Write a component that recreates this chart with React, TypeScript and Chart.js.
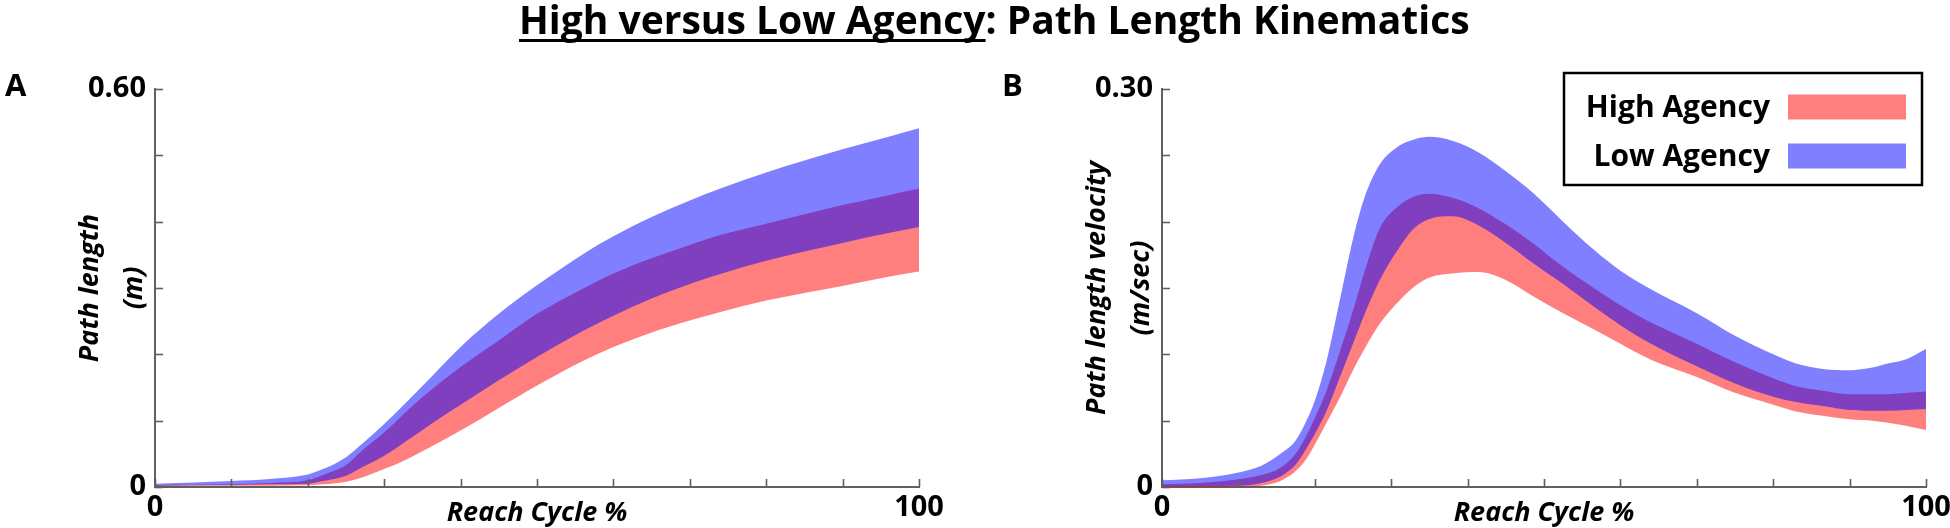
import React, { useEffect, useRef } from 'react';
import { Chart, registerables } from 'chart.js';

Chart.register(...registerables);

const FONT = "'Open Sans', 'DejaVu Sans', sans-serif";
Chart.defaults.font.family = FONT;

// ---------- texts ----------
const titleUnderlined = 'High versus Low Agency';
const titleRest = ': Path Length Kinematics';
const panelLetters = ['A', 'B'];
const xAxisTitle = 'Reach Cycle %';
const yTitleA = ['Path length', '(m)'];
const yTitleB = ['Path length velocity', '(m/sec)'];

// ---------- series ----------
const seriesNames = ['High Agency', 'Low Agency'];
const seriesColors = ['rgba(255, 0, 0, 0.5)', 'rgba(0, 0, 255, 0.5)'];

// ---------- tick labels ----------
const xTickValues = [0, 100];
const xTickTexts = ['0', '100'];
const yTickValuesA = [0, 0.6];
const yTickTextsA = ['0', '0.60'];
const yTickValuesB = [0, 0.3];
const yTickTextsB = ['0', '0.30'];

// ---------- panel A: path length (m) ----------
const reachA = [0, 10, 15, 20, 22, 25, 27, 30, 33, 36, 40, 45, 50, 56, 60, 65, 70, 74, 80, 90, 96, 100];
const lowUpperA = [0.005, 0.009, 0.012, 0.019, 0.027, 0.045, 0.064, 0.095, 0.129, 0.164, 0.211, 0.261, 0.304, 0.351, 0.378, 0.407, 0.432, 0.450, 0.474, 0.509, 0.528, 0.541];
const lowLowerA = [0.002, 0.003, 0.004, 0.005, 0.009, 0.017, 0.029, 0.047, 0.070, 0.094, 0.124, 0.161, 0.196, 0.235, 0.258, 0.284, 0.306, 0.321, 0.341, 0.368, 0.383, 0.392];
const highUpperA = [0.003, 0.004, 0.006, 0.010, 0.018, 0.033, 0.054, 0.082, 0.115, 0.145, 0.181, 0.221, 0.261, 0.299, 0.322, 0.345, 0.365, 0.380, 0.397, 0.425, 0.440, 0.450];
const highLowerA = [0.0015, 0.002, 0.002, 0.0025, 0.004, 0.008, 0.014, 0.027, 0.042, 0.060, 0.085, 0.119, 0.153, 0.190, 0.211, 0.233, 0.251, 0.264, 0.281, 0.303, 0.317, 0.325];

// ---------- panel B: path length velocity (m/sec) ----------
const reachB = [0, 5, 10, 13, 15.5, 17.5, 19, 20, 21.5, 23.5, 25, 26.5, 28.5, 31, 33, 35, 38, 41.5, 45, 48.5, 52.5, 56.5, 60, 64, 70, 75, 80, 83, 86.5, 90, 93, 95, 97.5, 100];
const lowUpperB = [0.005, 0.0066, 0.011, 0.016, 0.025, 0.035, 0.051, 0.065, 0.094, 0.147, 0.187, 0.218, 0.243, 0.257, 0.262, 0.264, 0.261, 0.252, 0.238, 0.222, 0.200, 0.179, 0.163, 0.149, 0.131, 0.114, 0.100, 0.093, 0.089, 0.088, 0.090, 0.093, 0.0965, 0.104];
const lowLowerB = [0.0005, 0.0007, 0.001, 0.003, 0.008, 0.017, 0.030, 0.040, 0.057, 0.086, 0.108, 0.130, 0.156, 0.180, 0.195, 0.202, 0.204, 0.197, 0.184, 0.169, 0.153, 0.136, 0.122, 0.108, 0.091, 0.078, 0.068, 0.064, 0.061, 0.058, 0.0575, 0.0575, 0.058, 0.0587];
const highUpperB = [0.002, 0.003, 0.0058, 0.009, 0.0146, 0.025, 0.040, 0.052, 0.072, 0.106, 0.133, 0.162, 0.195, 0.212, 0.219, 0.221, 0.218, 0.210, 0.198, 0.184, 0.166, 0.150, 0.137, 0.124, 0.108, 0.094, 0.082, 0.076, 0.0726, 0.070, 0.070, 0.070, 0.071, 0.072];
const highLowerB = [0, 0, 0.0003, 0.001, 0.0045, 0.012, 0.022, 0.032, 0.048, 0.070, 0.088, 0.104, 0.123, 0.140, 0.151, 0.158, 0.161, 0.162, 0.156, 0.144, 0.131, 0.119, 0.108, 0.096, 0.083, 0.071, 0.062, 0.057, 0.0537, 0.051, 0.050, 0.0485, 0.046, 0.043];

// ---------- style ----------
const AXIS_COLOR = '#606060';
const CANVAS_W = 975;
const CANVAS_H = 528;

const inwardTicks = {
  id: 'inwardTicks',
  afterDatasetsDraw(chart: any) {
    const { ctx, chartArea, scales } = chart;
    const len = 8;
    ctx.save();
    ctx.strokeStyle = AXIS_COLOR;
    ctx.lineWidth = 1.6;
    const xs = scales.x;
    const ys = scales.y;
    xs.ticks.forEach((t: any) => {
      const px = Math.round(xs.getPixelForValue(t.value)) + 0.5;
      ctx.beginPath();
      ctx.moveTo(px, chartArea.bottom);
      ctx.lineTo(px, chartArea.bottom - len);
      ctx.stroke();
    });
    ys.ticks.forEach((t: any) => {
      const py = Math.round(ys.getPixelForValue(t.value)) + 0.5;
      ctx.beginPath();
      ctx.moveTo(chartArea.left, py);
      ctx.lineTo(chartArea.left + len, py);
      ctx.stroke();
    });
    ctx.restore();
  },
};

const boxLegend = {
  id: 'boxLegend',
  afterDraw(chart: any, _args: any, opts: any) {
    if (!opts || !opts.show) return;
    const { ctx, chartArea } = chart;
    const right = chartArea.right - 4;
    const top = chartArea.top - 16;
    const w = 358;
    const h = 112;
    ctx.save();
    ctx.fillStyle = '#ffffff';
    ctx.fillRect(right - w, top, w, h);
    ctx.lineWidth = 2.5;
    ctx.strokeStyle = '#000000';
    ctx.strokeRect(right - w, top, w, h);
    ctx.font = `bold 30px ${FONT}`;
    ctx.textAlign = 'right';
    ctx.textBaseline = 'middle';
    seriesNames.forEach((name, i) => {
      const cy = top + 34 + i * 49;
      ctx.fillStyle = seriesColors[i];
      ctx.fillRect(right - 134, cy - 12.5, 118, 25);
      ctx.fillStyle = '#000000';
      ctx.fillText(name, right - 152, cy + 1);
    });
    ctx.restore();
  },
};

type PanelSpec = {
  x: number[];
  lowUpper: number[];
  lowLower: number[];
  highUpper: number[];
  highLower: number[];
  yMax: number;
  yStep: number;
  yTickValues: number[];
  yTickTexts: string[];
  yTitle: string[];
  padLeft: number;
  padRight: number;
  legend: boolean;
};

function labelFor(values: number[], texts: string[]) {
  return (value: any) => {
    const v = Number(value);
    for (let i = 0; i < values.length; i++) {
      if (Math.abs(values[i] - v) < 1e-9) return texts[i];
    }
    return '';
  };
}

function buildConfig(p: PanelSpec): any {
  const pts = (ys: number[]) => p.x.map((x, i) => ({ x, y: ys[i] }));
  const band = (lo: number[], hi: number[], idx: number, order: number) => [
    {
      label: seriesNames[idx],
      data: pts(lo),
      borderWidth: 0,
      borderColor: 'transparent',
      backgroundColor: seriesColors[idx],
      pointRadius: 0,
      fill: false,
      order,
    },
    {
      label: seriesNames[idx],
      data: pts(hi),
      borderWidth: 0,
      borderColor: 'transparent',
      backgroundColor: seriesColors[idx],
      pointRadius: 0,
      fill: '-1',
      order,
    },
  ];
  return {
    type: 'line',
    data: {
      datasets: [...band(p.highLower, p.highUpper, 0, 2), ...band(p.lowLower, p.lowUpper, 1, 1)],
    },
    options: {
      responsive: false,
      animation: false,
      events: [],
      layout: { padding: { left: p.padLeft, right: p.padRight, top: 89, bottom: 0 } },
      elements: { line: { cubicInterpolationMode: 'monotone' }, point: { radius: 0 } },
      plugins: {
        legend: { display: false },
        tooltip: { enabled: false },
        boxLegend: { show: p.legend },
      },
      scales: {
        x: {
          type: 'linear',
          min: 0,
          max: 100,
          grid: { display: false, drawTicks: false },
          border: { display: true, color: AXIS_COLOR, width: 2 },
          ticks: {
            stepSize: 10,
            autoSkip: false,
            maxRotation: 0,
            padding: 3,
            color: '#000',
            font: { family: FONT, size: 29, weight: 'bold' },
            callback: labelFor(xTickValues, xTickTexts),
          },
          title: {
            display: true,
            text: xAxisTitle,
            color: '#000',
            font: { family: FONT, size: 27, weight: 'bold', style: 'italic', lineHeight: 1 },
            padding: { top: 0, bottom: 1 },
          },
          afterFit(s: any) {
            s.height = 41;
            s.paddingLeft = 0;
            s.paddingRight = 0;
          },
        },
        y: {
          type: 'linear',
          min: 0,
          max: p.yMax,
          grid: { display: false, drawTicks: false },
          border: { display: true, color: AXIS_COLOR, width: 2 },
          ticks: {
            stepSize: p.yStep,
            autoSkip: false,
            padding: 9,
            color: '#000',
            font: { family: FONT, size: 29, weight: 'bold' },
            callback: labelFor(p.yTickValues, p.yTickTexts),
          },
          title: {
            display: true,
            text: p.yTitle,
            color: '#000',
            font: { family: FONT, size: 27, weight: 'bold', style: 'italic', lineHeight: 44 / 27 },
            padding: { top: 13, bottom: 0 },
          },
          afterFit(s: any) {
            s.width = 100;
            s.paddingTop = 0;
            s.paddingBottom = 0;
          },
        },
      },
    },
    plugins: [inwardTicks, boxLegend],
  };
}

const panelA: PanelSpec = {
  x: reachA,
  lowUpper: lowUpperA,
  lowLower: lowLowerA,
  highUpper: highUpperA,
  highLower: highLowerA,
  yMax: 0.6,
  yStep: 0.1,
  yTickValues: yTickValuesA,
  yTickTexts: yTickTextsA,
  yTitle: yTitleA,
  padLeft: 55,
  padRight: 56,
  legend: false,
};

const panelB: PanelSpec = {
  x: reachB,
  lowUpper: lowUpperB,
  lowLower: lowLowerB,
  highUpper: highUpperB,
  highLower: highLowerB,
  yMax: 0.3,
  yStep: 0.05,
  yTickValues: yTickValuesB,
  yTickTexts: yTickTextsB,
  yTitle: yTitleB,
  padLeft: 87,
  padRight: 24,
  legend: true,
};

export default function App() {
  const refA = useRef<HTMLCanvasElement | null>(null);
  const refB = useRef<HTMLCanvasElement | null>(null);

  useEffect(() => {
    document.body.style.margin = '0';
    const charts: Chart[] = [];
    if (refA.current) charts.push(new Chart(refA.current, buildConfig(panelA)));
    if (refB.current) charts.push(new Chart(refB.current, buildConfig(panelB)));
    return () => charts.forEach((c) => c.destroy());
  }, []);

  const letterStyle: React.CSSProperties = {
    position: 'absolute',
    top: 69,
    fontFamily: FONT,
    fontWeight: 700,
    fontSize: 31,
    lineHeight: '31px',
    color: '#000',
  };

  return (
    <div style={{ position: 'relative', width: 1950, height: 528, background: '#fff', overflow: 'hidden' }}>
      <canvas ref={refA} width={CANVAS_W} height={CANVAS_H} style={{ position: 'absolute', left: 0, top: 0, width: CANVAS_W, height: CANVAS_H }} />
      <canvas ref={refB} width={CANVAS_W} height={CANVAS_H} style={{ position: 'absolute', left: CANVAS_W, top: 0, width: CANVAS_W, height: CANVAS_H }} />
      <div
        style={{
          position: 'absolute',
          left: 519,
          top: -1,
          fontFamily: FONT,
          fontWeight: 700,
          fontSize: 39,
          lineHeight: '39px',
          color: '#000',
          whiteSpace: 'nowrap',
        }}
      >
        <span
          style={{
            textDecorationLine: 'underline',
            textDecorationThickness: 3,
            textUnderlineOffset: 5,
            textDecorationSkipInk: 'none',
          } as React.CSSProperties}
        >
          {titleUnderlined}
        </span>
        {titleRest}
      </div>
      <div style={{ ...letterStyle, left: 5 }}>{panelLetters[0]}</div>
      <div style={{ ...letterStyle, left: 1002 }}>{panelLetters[1]}</div>
    </div>
  );
}
